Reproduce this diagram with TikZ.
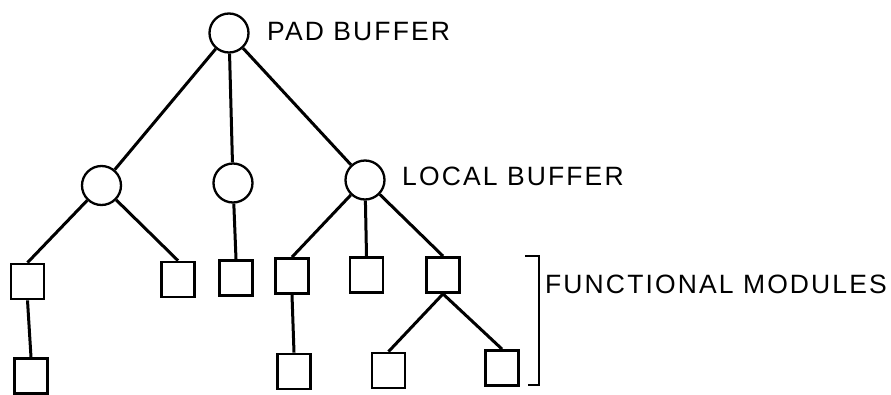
\documentclass[tikz,border=0pt]{standalone}
\usepackage{fontspec}
\newfontfamily\lblfont[LetterSpace=8]{Liberation Sans}
\begin{document}
\begin{tikzpicture}[x=1pt,y=-1pt,
  buffer/.style={circle,draw,line width=2.3pt,minimum size=39pt,inner sep=0pt},
  module/.style={rectangle,draw,line width=2.8pt,minimum width=33pt,minimum height=35pt,inner sep=0pt},
  link/.style={line width=3pt},
  label/.style={inner sep=0pt,anchor=west,font=\lblfont\fontsize{26.5pt}{28pt}\selectfont}]
\useasboundingbox (0,0) rectangle (891,394);

% buffers
\node[buffer] (pad) at (229,33) {};
\node[buffer] (lbA) at (101.5,185.5) {};
\node[buffer] (lbB) at (233,183) {};
\node[buffer] (lbC) at (365,180) {};

% functional modules, first row
\node[module] (m1) at (27.5,281.5) {};
\node[module] (m2) at (178,279.5) {};
\node[module] (m3) at (236,278) {};
\node[module] (m4) at (292,276) {};
\node[module] (m5) at (366.5,275) {};
\node[module] (m6) at (443,275) {};
% second row
\node[module] (m7) at (31,376) {};
\node[module] (m8) at (294,371.5) {};
\node[module] (m9) at (388.5,370.5) {};
\node[module] (m10) at (502,368) {};

% tree links
\draw[link] (pad) -- (lbA);
\draw[link] (pad) -- (lbB);
\draw[link] (pad) -- (lbC);
\draw[link] (lbA) -- (m1.north);
\draw[link] (lbA) -- (m2.north);
\draw[link] (lbB) -- (m3.north);
\draw[link] (lbC) -- (m4.north);
\draw[link] (lbC) -- (m5.north);
\draw[link] (lbC) -- (m6.north);
\draw[link] (m1.south) -- (m7.north);
\draw[link] (m4.south) -- (m8.north);
\draw[link] (m6.south) -- (m9.north);
\draw[link] (m6.south) -- (m10.north);

% bracket grouping the modules
\coordinate (brTop) at (525,256);
\coordinate (brBot) at (528,385);
\draw[line width=2.6pt] (brTop) -- (539,256) -- (539,385) -- (brBot);

% labels
\node[label] (padlbl) at (267,32) {PAD BUFFER};
\node[label] (loclbl) at (402,176.5) {LOCAL BUFFER};
\node[label] (funlbl) at (545,284) {FUNCTIONAL MODULES};
\end{tikzpicture}
\end{document}
